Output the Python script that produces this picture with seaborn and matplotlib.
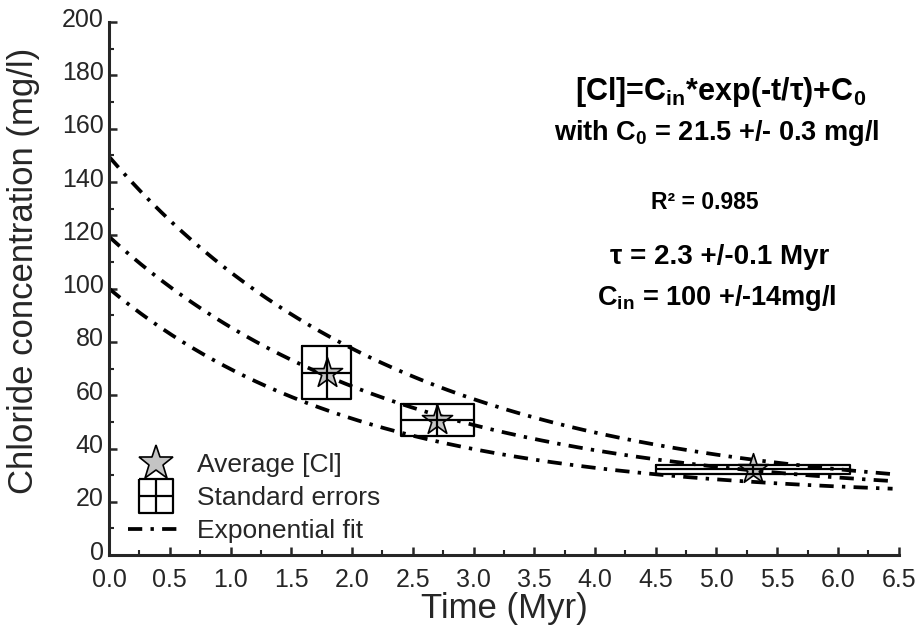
import numpy as np
import pandas as pd
import matplotlib
matplotlib.use("Agg")
import matplotlib.pyplot as plt
from matplotlib.lines import Line2D
from matplotlib.path import Path
from matplotlib.transforms import ScaledTranslation
import seaborn as sns

# averages with standard errors
time_myr = [1.79, 2.70, 5.30]
chloride = [68.5, 50.8, 32.3]
time_err = [0.20, 0.30, 0.80]
chloride_err = [10.0, 6.0, 1.7]

# three exponential fit curves: C0 + Cin*exp(-t/tau)
fit_names = ["upper", "best", "lower"]
fit_c0 = [21.5, 21.5, 21.5]
fit_cin = [128.0, 98.0, 78.5]
fit_tau = [2.42, 2.35, 2.06]
t_end = 6.45

sns.set_style("ticks")
plt.rcParams["font.family"] = ["Liberation Sans", "DejaVu Sans"]
plt.rcParams["mathtext.fontset"] = "custom"
plt.rcParams["mathtext.rm"] = "Liberation Sans:bold"
plt.rcParams["mathtext.it"] = "Liberation Sans:bold"
plt.rcParams["mathtext.bf"] = "Liberation Sans:bold"

fig = plt.figure(figsize=(9.17, 6.33), dpi=100)
ax = fig.add_axes([0.119, 0.123, 0.861, 0.842])

t = np.linspace(0, t_end, 300)
rows = []
for name, c0, cin, tau in zip(fit_names, fit_c0, fit_cin, fit_tau):
    for ti in t:
        rows.append({"curve": name, "t": ti, "c": c0 + cin * np.exp(-ti / tau)})
fits = pd.DataFrame(rows)

dash = (0, (3.8, 2.2, 0.9, 2.2))
for name in fit_names:
    sns.lineplot(data=fits[fits.curve == name], x="t", y="c", ax=ax,
                 color="black", linewidth=2.7, linestyle=dash, zorder=2)

pts = pd.DataFrame({"t": time_myr, "c": chloride})
sns.scatterplot(data=pts, x="t", y="c", ax=ax, marker="*", s=520,
                color="#c4c4c4", edgecolor="black", linewidth=1.2, zorder=3)

# standard errors drawn as box + cross
for x, y, xe, ye in zip(time_myr, chloride, time_err, chloride_err):
    ax.errorbar(x, y, xerr=xe, yerr=ye, fmt="none", ecolor="black",
                elinewidth=1.6, capsize=0, zorder=4)
    ax.plot([x - xe, x + xe, x + xe, x - xe, x - xe],
            [y + ye, y + ye, y - ye, y - ye, y + ye],
            color="black", linewidth=1.6, zorder=4)

ax.set_xlim(0, 6.5)
ax.set_ylim(0, 200)
ax.set_xticks(np.arange(0, 6.51, 0.5))
ax.set_xticks(np.arange(0, 6.51, 0.25), minor=True)
ax.set_yticks(np.arange(0, 201, 20))
ax.set_yticks(np.arange(0, 201, 10), minor=True)
ax.set_xticklabels([f"{v:.1f}" for v in np.arange(0, 6.51, 0.5)])
ax.tick_params(which="major", direction="in", length=6, width=1.8, labelsize=18)
ax.tick_params(which="minor", direction="in", length=3.5, width=1.5)
ax.tick_params(axis="x", which="major", pad=9)
ax.tick_params(axis="y", which="major", pad=4)
for side in ["left", "bottom"]:
    ax.spines[side].set_linewidth(2.2)
sns.despine(ax=ax)
for lab in ax.get_yticklabels():
    lab.set_transform(lab.get_transform() + ScaledTranslation(0, 0.05, fig.dpi_scale_trans))

ax.set_xlabel("Time (Myr)", fontsize=25, labelpad=0)
ax.set_ylabel("Chloride concentration (mg/l)", fontsize=25)
ax.yaxis.set_label_coords(-0.088, 0.533)

tb = dict(ha="center", va="center", fontweight="bold", color="black")
ax.text(5.03, 173.7, r"[Cl]=C$_{in}$*exp(-t/τ)+C$_0$", fontsize=22, **tb)
ax.text(5.00, 158.3, r"with C$_0$ = 21.5 +/- 0.3 mg/l", fontsize=19.5, **tb)
ax.text(4.90, 132.5, "R² = 0.985", fontsize=16.5, **tb)
ax.text(5.03, 111.8, "τ = 2.3 +/-0.1 Myr", fontsize=20, **tb)
ax.text(5.00, 96.4, r"C$_{in}$ = 100 +/-14mg/l", fontsize=19.5, **tb)

# legend handles
box = Path([(-1, 1), (1, 1), (1, -1), (-1, -1), (-1, 1),
            (-1, 0), (1, 0), (0, 1), (0, -1)],
           [Path.MOVETO, Path.LINETO, Path.LINETO, Path.LINETO, Path.LINETO,
            Path.MOVETO, Path.LINETO, Path.MOVETO, Path.LINETO])
h_star = Line2D([], [], marker="*", linestyle="none", markersize=26,
                markerfacecolor="#c4c4c4", markeredgecolor="black", markeredgewidth=1.2)
h_err = Line2D([], [], marker=box, linestyle="none", markersize=25,
               markerfacecolor="none", markeredgecolor="black", markeredgewidth=1.6)
h_fit = Line2D([], [], color="black", linewidth=2.7, linestyle=dash)
ax.legend([h_star, h_err, h_fit], ["Average [Cl]", "Standard errors", "Exponential fit"],
          loc="lower left", bbox_to_anchor=(0.024, 0.022), frameon=False,
          fontsize=19, handlelength=2.1, handletextpad=0.53, labelspacing=0.34,
          borderpad=0, borderaxespad=0)

fig.savefig("out.png", dpi=100)
